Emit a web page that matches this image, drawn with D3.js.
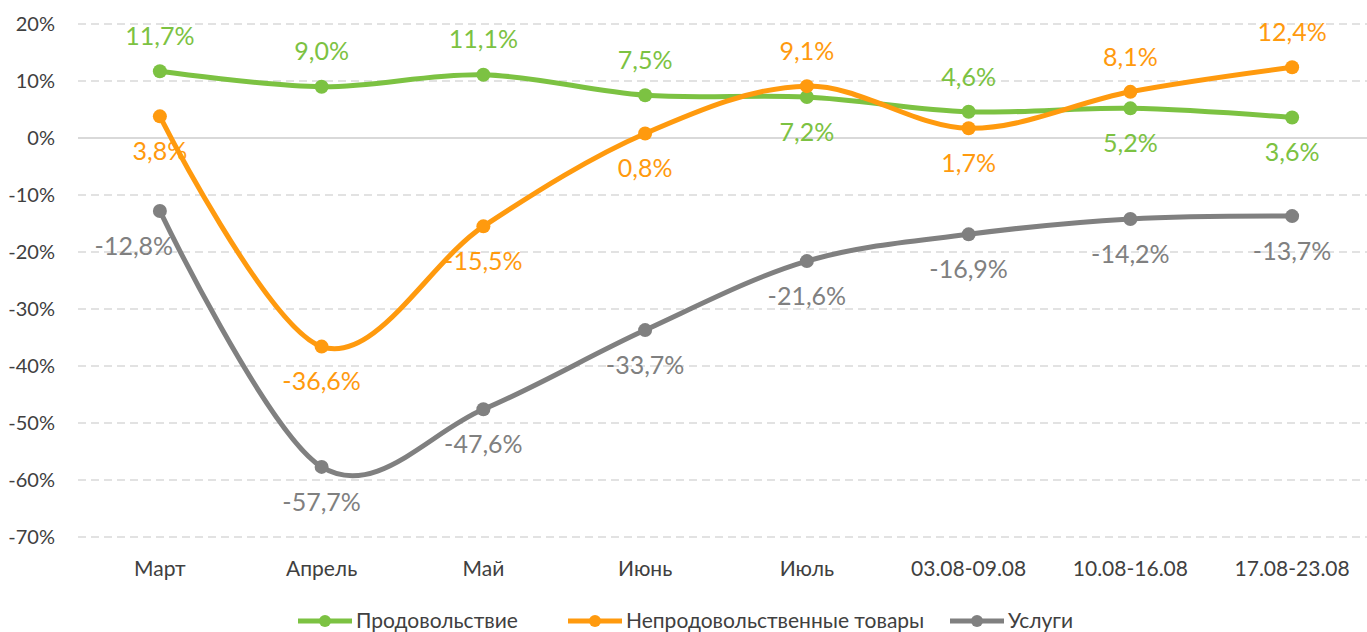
<!DOCTYPE html>
<html>
<head>
<meta charset="utf-8">
<script src="https://cdn.jsdelivr.net/npm/d3@7"></script>
<style>
  body { margin: 0; background: #fff; }
  svg { font-family: Lato, "Open Sans", sans-serif; }
</style>
</head>
<body>
<svg id="chart" width="1367" height="632"></svg>
<script>
// categories and series
const categories = ["Март", "Апрель", "Май", "Июнь", "Июль", "03.08-09.08", "10.08-16.08", "17.08-23.08"];
const food = [11.7, 9.0, 11.1, 7.5, 7.2, 4.6, 5.2, 3.6];
const nonFood = [3.8, -36.6, -15.5, 0.8, 9.1, 1.7, 8.1, 12.4];
const services = [-12.8, -57.7, -47.6, -33.7, -21.6, -16.9, -14.2, -13.7];
const yTicks = [20, 10, 0, -10, -20, -30, -40, -50, -60, -70];

// label placement: 1 = above, -1 = below
const foodPos = [1, 1, 1, 1, -1, 1, -1, -1];
const nonFoodPos = [-1, -1, -1, -1, 1, -1, 1, 1];
const servicesPos = [-1, -1, -1, -1, -1, -1, -1, -1];

const series = [
  {name: "Продовольствие", values: food, pos: foodPos, color: "#7cc242"},
  {name: "Непродовольственные товары", values: nonFood, pos: nonFoodPos, color: "#ff9a0e"},
  {name: "Услуги", values: services, pos: servicesPos, color: "#808080"}
];

const svg = d3.select("#chart");

let x = d3.scaleBand()
  .domain(categories)
  .range([79, 1373]);

let y = d3.scaleLinear()
  .domain([-70, 20])
  .range([537, 24]);

const fmt = v => d3.format(".1f")(v).replace(".", ",").replace("−", "-") + "%";

//gridlines
svg.append("g")
  .selectAll("line")
  .data(yTicks)
  .enter().append("line")
    .attr("x1", 78)
    .attr("x2", 1367)
    .attr("y1", d => y(d))
    .attr("y2", d => y(d))
    .attr("stroke", "#d9d9d9")
    .attr("stroke-width", d => d == 0 ? 2 : 1.5)
    .attr("stroke-dasharray", d => d == 0 ? null : "8,5");

// y tick labels
svg.append("g")
  .selectAll("text")
  .data(yTicks)
  .enter().append("text")
    .attr("x", 55)
    .attr("y", d => y(d))
    .attr("dy", "0.35em")
    .attr("text-anchor", "end")
    .attr("font-size", 20)
    .attr("fill", "#404040")
    .text(d => d + "%");

// category labels
svg.append("g")
  .selectAll("text")
  .data(categories)
  .enter().append("text")
    .attr("x", d => x(d) + x.bandwidth() / 2)
    .attr("y", 569)
    .attr("dy", "0.35em")
    .attr("text-anchor", "middle")
    .attr("font-size", 21)
    .attr("fill", "#404040")
    .text(d => d);

let line = d3.line()
  .x((d, i) => x(categories[i]) + x.bandwidth() / 2)
  .y(d => y(d))
  .curve(d3.curveCatmullRom.alpha(0));

series.forEach(s => {
  let g = svg.append("g");
  g.append("path")
    .datum(s.values)
    .attr("fill", "none")
    .attr("stroke", s.color)
    .attr("stroke-width", 5)
    .attr("d", line);

  g.selectAll("circle")
    .data(s.values)
    .enter().append("circle")
      .attr("cx", (d, i) => x(categories[i]) + x.bandwidth() / 2)
      .attr("cy", d => y(d))
      .attr("r", 7)
      .attr("fill", s.color);

  g.selectAll("text")
    .data(s.values)
    .enter().append("text")
      .attr("x", (d, i) => x(categories[i]) + x.bandwidth() / 2 - (s.name == "Услуги" && i == 0 ? 26 : 0))
      .attr("y", (d, i) => y(d) - s.pos[i] * 35)
      .attr("dy", "0.35em")
      .attr("text-anchor", "middle")
      .attr("font-size", 25)
      .attr("fill", s.color)
      .text(d => fmt(d));
});

// legend
const legendX = [298, 568, 950];
let legend = svg.append("g");
series.forEach((s, i) => {
  let lg = legend.append("g").attr("transform", "translate(" + legendX[i] + ",621)");
  lg.append("line")
    .attr("x1", 0).attr("x2", 54)
    .attr("stroke", s.color)
    .attr("stroke-width", 5);
  lg.append("circle")
    .attr("cx", 27).attr("r", 6)
    .attr("fill", s.color);
  lg.append("text")
    .attr("x", 58)
    .attr("dy", "0.35em")
    .attr("font-size", 21)
    .attr("fill", "#404040")
    .text(s.name);
});
</script>
</body>
</html>
